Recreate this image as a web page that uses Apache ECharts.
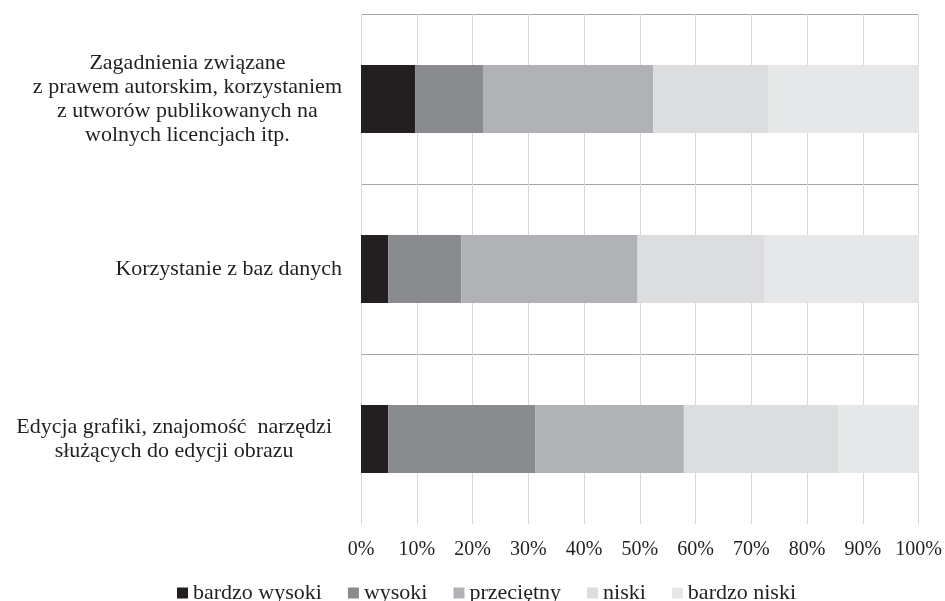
<!DOCTYPE html>
<html>
<head>
<meta charset="utf-8">
<script src="https://cdn.jsdelivr.net/npm/echarts@6/dist/echarts.min.js"></script>
<style>
  html, body { margin: 0; padding: 0; background: #fff; }
</style>
</head>
<body>
<div id="chart" style="width:945px;height:601px;"></div>
<script>
// kategorie od dołu do góry
const categories = [
  'Edycja grafiki, znajomość  narzędzi\nsłużących do edycji obrazu',
  'Korzystanie z baz danych',
  'Zagadnienia związane\nz prawem autorskim, korzystaniem\nz utworów publikowanych na\nwolnych licencjach itp.'
];
const seriesNames = ['bardzo wysoki', 'wysoki', 'przeciętny', 'niski', 'bardzo niski'];
const bardzoWysoki = [4.9, 4.9, 9.7];
const wysoki = [26.4, 13.1, 12.3];
const przecietny = [26.6, 31.6, 30.4];
const niski = [27.7, 22.8, 20.7];
const bardzoNiski = [14.4, 27.6, 26.9];
const tickLabels = ['0%', '10%', '20%', '30%', '40%', '50%', '60%', '70%', '80%', '90%', '100%'];

const colors = ['#231f20', '#8a8b8e', '#b1b2b5', '#dcdddf', '#e6e7e8'];
const values = [bardzoWysoki, wysoki, przecietny, niski, bardzoNiski];
const font = '"Liberation Serif", "Times New Roman", serif';

let chart = echarts.init(document.getElementById('chart'));

let labelStyle = {
  fontFamily: font,
  fontSize: 22,
  lineHeight: 24,
  color: '#231f20',
  align: 'center'
};

let option = {
  animation: false,
  color: colors,
  textStyle: { fontFamily: font },
  grid: {
    left: 361,
    right: 25,
    top: 14,
    bottom: 77
  },
  legend: {
    data: seriesNames,
    left: 172,
    top: 577,
    itemWidth: 11,
    itemHeight: 11,
    itemGap: 26,
    icon: 'rect',
    textStyle: { fontFamily: font, fontSize: 22, color: '#231f20' }
  },
  xAxis: {
    type: 'value',
    min: 0,
    max: 100,
    interval: 10,
    axisLine: { show: false },
    axisTick: { show: false },
    axisLabel: {
      fontFamily: font,
      fontSize: 20,
      color: '#231f20',
      margin: 16,
      formatter: (v) => tickLabels[Math.round(v / 10)]
    },
    splitLine: { show: true, lineStyle: { color: '#d9d9d9', width: 1 } }
  },
  yAxis: {
    type: 'category',
    data: categories,
    axisLine: { show: false },
    axisTick: { show: false },
    splitLine: {
      show: true,
      lineStyle: { color: ['rgba(0,0,0,0)', '#a6a6a6', '#a6a6a6', '#a6a6a6'], width: 1 }
    },
    axisLabel: {
      margin: 19,
      align: 'right',
      formatter: (v, i) => {
        let key = i === 0 ? 'e' : 'c';
        return v.split('\n').map((s) => '{' + key + '|' + s + '}').join('\n');
      },
      rich: {
        c: labelStyle,
        e: Object.assign({}, labelStyle, { padding: [0, 10, 0, 0] })
      }
    }
  },
  series: seriesNames.map((name, i) => ({
    name: name,
    type: 'bar',
    stack: 'total',
    barWidth: '40%',
    data: values[i]
  }))
};

chart.setOption(option);
</script>
</body>
</html>
